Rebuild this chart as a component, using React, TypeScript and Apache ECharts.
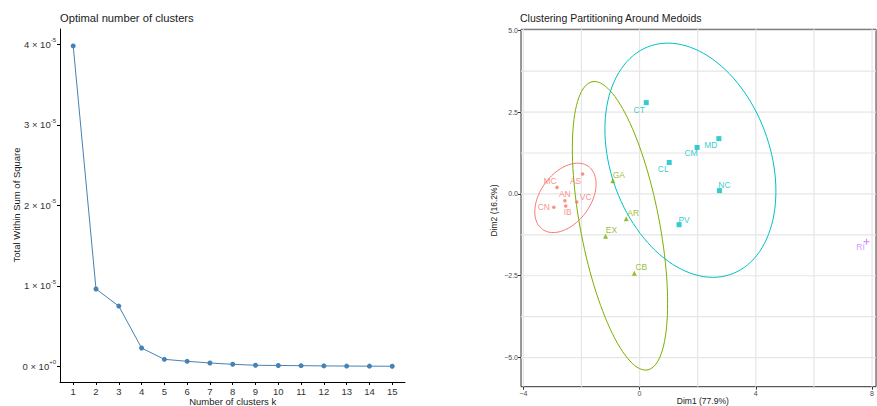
import React, { useEffect, useRef } from "react";
import * as echarts from "echarts";

// ---- Elbow plot: total within-cluster sum of squares by k ----
const K_VALUES = [1, 2, 3, 4, 5, 6, 7, 8, 9, 10, 11, 12, 13, 14, 15];
const WSS = [
  3.98e-5, 0.96e-5, 0.748e-5, 0.227e-5, 0.087e-5, 0.062e-5, 0.041e-5, 0.025e-5,
  0.013e-5, 0.01e-5, 0.008e-5, 0.005e-5, 0.003e-5, 0.002e-5, 0.001e-5,
];
const WSS_TICKS = [0, 1e-5, 2e-5, 3e-5, 4e-5];

// ---- PAM cluster plot on the first two principal dimensions ----
const CLUSTER_1_NAMES = ["MC", "AS", "AN", "VC", "CN", "IB"];
const CLUSTER_1_DIM1 = [-2.84, -1.96, -2.57, -2.16, -2.95, -2.54];
const CLUSTER_1_DIM2 = [0.2, 0.61, -0.21, -0.25, -0.41, -0.37];

const CLUSTER_2_NAMES = ["GA", "AR", "EX", "CB"];
const CLUSTER_2_DIM1 = [-0.92, -0.46, -1.17, -0.18];
const CLUSTER_2_DIM2 = [0.4, -0.76, -1.29, -2.42];

const CLUSTER_3_NAMES = ["CT", "MD", "CM", "CL", "NC", "PV"];
const CLUSTER_3_DIM1 = [0.23, 2.73, 1.98, 1.02, 2.75, 1.36];
const CLUSTER_3_DIM2 = [2.79, 1.69, 1.42, 0.96, 0.1, -0.94];

const CLUSTER_4_NAMES = ["RI"];
const CLUSTER_4_DIM1 = [7.81];
const CLUSTER_4_DIM2 = [-1.46];

// Concentration ellipses for clusters 1-3: centre, half-extent along each axis, correlation
const ELLIPSE_CENTER_X = [-2.55, -0.673, 1.75];
const ELLIPSE_CENTER_Y = [-0.12, -0.974, 1.03];
const ELLIPSE_HALF_X = [1.055, 1.639, 2.942];
const ELLIPSE_HALF_Y = [1.06, 4.408, 3.578];
const ELLIPSE_CORR = [0.4, -0.537, -0.264];

const DIM1_TICKS = [-4, 0, 4, 8];
const DIM2_TICKS = [-5, -2.5, 0, 2.5, 5];
const DIM1_GRID = [-4, -2, 0, 2, 4, 6, 8];
const DIM2_GRID = [-5, -3.75, -2.5, -1.25, 0, 1.25, 2.5, 3.75, 5];

// panel limits of the cluster plot
const DIM1_MIN = -4.079;
const DIM1_MAX = 8.137;
const DIM2_MIN = -5.89;
const DIM2_MAX = 5.03;

const FONT = '"Liberation Sans", Arial, Helvetica, sans-serif';
const CLUSTER_COLORS = ["#F8766D", "#7CAE00", "#00BFC4", "#C77CFF"];
const PLUS_PATH = "path://M2,0H3V2H5V3H3V5H2V3H0V2H2Z";

// label placement (pixel offset from the point) for the repelled text labels
const LABEL_OFFSET: Record<string, [number, number]> = {
  MC: [-7, -6], AS: [-7, 7], AN: [0, -7], VC: [9, -5], CN: [-10, 0], IB: [2, 6],
  GA: [6, -6], AR: [7, -6], EX: [6, -6], CB: [7, -6],
  CT: [-7, 7], MD: [-8, 6], CM: [-6, 6], CL: [-6, 6], NC: [5, -6], PV: [5, -5],
  RI: [-6, 5],
};

const minus = (s: string) => s.replace("-", "\u2212");

function ellipsePoints(i: number): number[][] {
  const pts: number[][] = [];
  const steps = 120;
  const r = ELLIPSE_CORR[i];
  const q = Math.sqrt(1 - r * r);
  for (let s = 0; s <= steps; s++) {
    const t = (s / steps) * Math.PI * 2;
    pts.push([
      ELLIPSE_CENTER_X[i] + ELLIPSE_HALF_X[i] * Math.cos(t),
      ELLIPSE_CENTER_Y[i] + ELLIPSE_HALF_Y[i] * (r * Math.cos(t) + q * Math.sin(t)),
    ]);
  }
  return pts;
}

function clusterSeries(
  names: string[],
  dim1: number[],
  dim2: number[],
  color: string,
  symbol: string,
  size: number
) {
  return {
    type: "scatter",
    xAxisIndex: 1,
    yAxisIndex: 1,
    z: 4,
    symbol,
    symbolSize: size,
    itemStyle: { color },
    data: names.map((n, i) => ({
      name: n,
      value: [dim1[i], dim2[i]],
      label: { offset: LABEL_OFFSET[n] || [0, -7] },
    })),
    label: {
      show: true,
      position: "inside",
      formatter: "{b}",
      fontSize: 8.5,
      fontFamily: FONT,
      color,
      align: "center",
      verticalAlign: "middle",
    },
    emphasis: { disabled: true },
  };
}

function gridLineSeries(data: number[][]) {
  return {
    type: "line",
    xAxisIndex: 1,
    yAxisIndex: 1,
    z: 1,
    silent: true,
    symbol: "none",
    showSymbol: false,
    data,
    lineStyle: { color: "#E6E6E6", width: 1.2 },
    emphasis: { disabled: true },
  };
}

function buildOption() {
  const ellipses = [0, 1, 2].map((i) => ({
    type: "line",
    xAxisIndex: 1,
    yAxisIndex: 1,
    z: 3,
    showSymbol: false,
    symbol: "none",
    data: ellipsePoints(i),
    lineStyle: { color: CLUSTER_COLORS[i], width: 1 },
    emphasis: { disabled: true },
  }));

  const gridLines = [
    ...DIM1_GRID.map((v) => gridLineSeries([[v, DIM2_MIN], [v, DIM2_MAX]])),
    ...DIM2_GRID.map((v) => gridLineSeries([[DIM1_MIN, v], [DIM1_MAX, v]])),
  ];

  return {
    animation: false,
    backgroundColor: "#ffffff",
    textStyle: { fontFamily: FONT },
    grid: [
      { left: 60, top: 29, width: 345, height: 353, show: false },
      {
        left: 521,
        top: 29.3,
        right: -1,
        bottom: 19.3,
        show: true,
        borderColor: "#333333",
        borderWidth: 1,
        backgroundColor: "transparent",
      },
    ],
    xAxis: [
      {
        gridIndex: 0,
        type: "value",
        min: 0.42,
        max: 15.56,
        axisLine: { show: true, onZero: false, lineStyle: { color: "#000", width: 1 } },
        axisTick: { show: true, length: 3, customValues: K_VALUES, lineStyle: { color: "#000" } },
        axisLabel: {
          customValues: K_VALUES,
          fontSize: 9.5,
          color: "#333",
          margin: 4,
          fontFamily: FONT,
        },
        splitLine: { show: false },
      },
      {
        gridIndex: 1,
        type: "value",
        min: DIM1_MIN,
        max: DIM1_MAX,
        axisLine: { show: false, onZero: false },
        axisTick: { show: true, length: 3, customValues: DIM1_TICKS, lineStyle: { color: "#333" } },
        axisLabel: {
          customValues: DIM1_TICKS,
          fontSize: 7,
          color: "#4D4D4D",
          margin: 3,
          fontFamily: FONT,
          formatter: (v: number) => minus(String(v)),
        },
        splitLine: { show: false },
      },
    ],
    yAxis: [
      {
        gridIndex: 0,
        type: "value",
        min: -0.195e-5,
        max: 4.19e-5,
        axisLine: { show: true, onZero: false, lineStyle: { color: "#000", width: 1 } },
        axisTick: { show: true, length: 3, customValues: WSS_TICKS, lineStyle: { color: "#000" } },
        axisLabel: {
          customValues: WSS_TICKS,
          margin: 4,
          formatter: (v: number) => {
            const m = Math.round(v / 1e-5);
            return m === 0 ? "{b|0 \u00d7 10}{s|+0}" : `{b|${m} \u00d7 10}{s|-5}`;
          },
          rich: {
            b: { fontSize: 9.5, color: "#333", fontFamily: FONT, lineHeight: 14 },
            s: { fontSize: 6, color: "#333", fontFamily: FONT, lineHeight: 14, verticalAlign: "top" },
          },
        },
        splitLine: { show: false },
      },
      {
        gridIndex: 1,
        type: "value",
        min: DIM2_MIN,
        max: DIM2_MAX,
        axisLine: { show: false, onZero: false },
        axisTick: { show: true, length: 3, customValues: DIM2_TICKS, lineStyle: { color: "#333" } },
        axisLabel: {
          customValues: DIM2_TICKS,
          fontSize: 7,
          color: "#4D4D4D",
          margin: 3,
          fontFamily: FONT,
          formatter: (v: number) => minus(v.toFixed(1)),
        },
        splitLine: { show: false },
      },
    ],
    series: [
      {
        type: "line",
        xAxisIndex: 0,
        yAxisIndex: 0,
        data: K_VALUES.map((k, i) => [k, WSS[i]]),
        symbol: "circle",
        symbolSize: 5,
        showSymbol: true,
        lineStyle: { color: "#4682B4", width: 1 },
        itemStyle: { color: "#4682B4" },
        emphasis: { disabled: true },
      },
      ...gridLines,
      ...ellipses,
      clusterSeries(CLUSTER_1_NAMES, CLUSTER_1_DIM1, CLUSTER_1_DIM2, CLUSTER_COLORS[0], "circle", 3.5),
      clusterSeries(CLUSTER_2_NAMES, CLUSTER_2_DIM1, CLUSTER_2_DIM2, CLUSTER_COLORS[1], "triangle", 5),
      clusterSeries(CLUSTER_3_NAMES, CLUSTER_3_DIM1, CLUSTER_3_DIM2, CLUSTER_COLORS[2], "rect", 5),
      clusterSeries(CLUSTER_4_NAMES, CLUSTER_4_DIM1, CLUSTER_4_DIM2, CLUSTER_COLORS[3], PLUS_PATH, 6),
    ],
    graphic: [
      {
        type: "text",
        x: 60,
        y: 18,
        style: { text: "Optimal number of clusters", fontSize: 11.2, fill: "#1a1a1a", fontFamily: FONT, verticalAlign: "middle" },
      },
      {
        type: "text",
        x: 520,
        y: 17.5,
        style: { text: "Clustering Partitioning Around Medoids", fontSize: 10.5, fill: "#1a1a1a", fontFamily: FONT, verticalAlign: "middle" },
      },
      {
        type: "text",
        x: 16.5,
        y: 205,
        rotation: Math.PI / 2,
        style: { text: "Total Within Sum of Square", fontSize: 9.5, fill: "#1a1a1a", fontFamily: FONT, align: "center", verticalAlign: "middle" },
      },
      {
        type: "text",
        x: 232.7,
        y: 401.5,
        style: { text: "Number of clusters k", fontSize: 9.5, fill: "#1a1a1a", fontFamily: FONT, align: "center", verticalAlign: "middle" },
      },
      {
        type: "text",
        x: 702.8,
        y: 401,
        style: { text: "Dim1 (77.9%)", fontSize: 8.5, fill: "#1a1a1a", fontFamily: FONT, align: "center", verticalAlign: "middle" },
      },
      {
        type: "text",
        x: 494,
        y: 210.5,
        rotation: Math.PI / 2,
        style: { text: "Dim2 (16.2%)", fontSize: 8.5, fill: "#1a1a1a", fontFamily: FONT, align: "center", verticalAlign: "middle" },
      },
    ],
  };
}

export default function App() {
  const ref = useRef<HTMLDivElement>(null);
  useEffect(() => {
    if (!ref.current) return;
    const chart = echarts.init(ref.current, null, { renderer: "svg" });
    chart.setOption(buildOption() as any);
    return () => chart.dispose();
  }, []);
  return (
    <div
      ref={ref}
      style={{ position: "fixed", left: 0, top: 0, width: 877, height: 406, background: "#fff" }}
    />
  );
}
